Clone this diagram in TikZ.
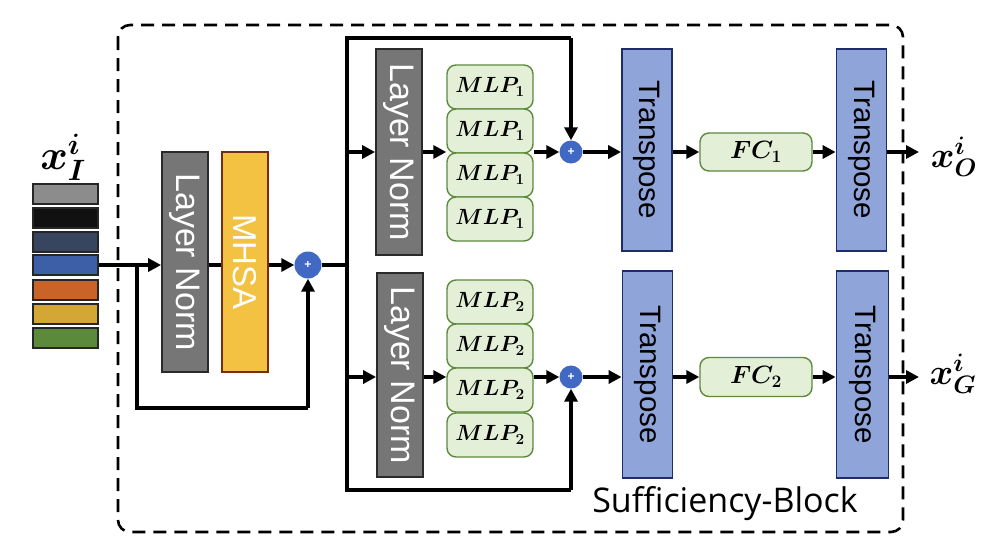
\RequirePackage{fix-cm}
\documentclass[tikz,border=0pt]{standalone}
\usepackage{fontspec}
\usepackage{bm}
\newfontfamily\sansf{Liberation Sans}
\newfontfamily\blockf{Open Sans}
\usetikzlibrary{arrows.meta}
\definecolor{lngray}{HTML}{767676}
\definecolor{lnborder}{HTML}{2A2A2A}
\definecolor{mhsafill}{HTML}{F4C242}
\definecolor{mhsaborder}{HTML}{7A2A10}
\definecolor{mlpfill}{HTML}{E3EFD6}
\definecolor{mlpborder}{HTML}{5E8A3C}
\definecolor{tfill}{HTML}{8FA4D9}
\definecolor{tborder}{HTML}{1E2C6B}
\definecolor{plusblue}{HTML}{4169C4}
\definecolor{c1}{HTML}{8C8C8C}
\definecolor{c2}{HTML}{111111}
\definecolor{c3}{HTML}{37465E}
\definecolor{c4}{HTML}{3C5FA8}
\definecolor{c5}{HTML}{C8632A}
\definecolor{c6}{HTML}{D4A635}
\definecolor{c7}{HTML}{5B8A3A}
\begin{document}
\begin{tikzpicture}[x=1pt,y=-1pt,
  box/.style={draw, rectangle, line width=1.8pt, inner sep=0pt},
  lnbox/.style={box, fill=lngray, draw=lnborder, text=white, minimum width=46pt, font=\sansf\fontsize{34}{34}\selectfont},
  mhsabox/.style={box, fill=mhsafill, draw=mhsaborder, text=white, minimum width=46pt, minimum height=220pt, font=\sansf\fontsize{33}{33}\selectfont},
  tbox/.style={box, fill=tfill, draw=tborder, text=black, minimum width=50pt, font=\sansf\fontsize{29.5}{29.5}\selectfont},
  mlpbox/.style={draw=mlpborder, fill=mlpfill, line width=1.4pt, rounded corners=9pt, minimum width=86pt, minimum height=44pt, inner sep=0pt, font=\fontsize{22}{22}\selectfont},
  fcbox/.style={draw=mlpborder, fill=mlpfill, line width=1.4pt, rounded corners=9pt, minimum width=112pt, minimum height=38pt, inner sep=0pt, font=\fontsize{25}{25}\selectfont},
  inbox/.style={draw=black!85, line width=1.6pt, minimum width=65pt, minimum height=20pt, inner sep=0pt},
  plus/.style={circle, fill=plusblue, inner sep=0pt, text=white, font=\sansf\bfseries\fontsize{12}{12}\selectfont},
  arr/.style={line width=3.4pt, -{Triangle[length=13pt,width=13pt]}},
  ln/.style={line width=3.4pt},
  lbl/.style={inner sep=0pt},
]
\useasboundingbox (0,0) rectangle (991,555);
\fill[white] (0,0) rectangle (991,555);

% dashed frame
\draw[line width=2.6pt, dash pattern=on 13pt off 8pt, rounded corners=12pt] (118,25) rectangle (903,532);

% input stack
\node[lbl, font=\fontsize{42}{42}\selectfont] (xi) at (63,157) {$\bm{x_I^i}$};
\node[inbox, fill=c1] (in1) at (65.5,194) {};
\node[inbox, fill=c2] (in2) at (65.5,218) {};
\node[inbox, fill=c3] (in3) at (65.5,242) {};
\node[inbox, fill=c4] (in4) at (65.5,265) {};
\node[inbox, fill=c5] (in5) at (65.5,290) {};
\node[inbox, fill=c6] (in6) at (65.5,314) {};
\node[inbox, fill=c7] (in7) at (65.5,338) {};

% first stage
\node[lnbox, minimum height=220pt] (ln1) at (185,262) {\rotatebox{-90}{Layer Norm}};
\node[mhsabox] (mhsa) at (245,262) {\rotatebox{-90}{MHSA}};
\node[plus, minimum size=27pt] (p1) at (308,265) {+};

% branch coordinates
\coordinate (bm) at (347,265);
\coordinate (bt) at (347,38);
\coordinate (bb) at (347,490);
\coordinate (tr) at (571,38);
\coordinate (br) at (571,490);
\coordinate (sk1) at (137,265);
\coordinate (sk2) at (137,408);
\coordinate (sk3) at (308,408);

% upper branch
\node[lnbox, minimum height=206pt] (ln2) at (399,152) {\rotatebox{-90}{Layer Norm}};
\node[mlpbox] (m11) at (490,87) {$\bm{MLP_1}$};
\node[mlpbox] (m12) at (490,131) {$\bm{MLP_1}$};
\node[mlpbox] (m13) at (490,175) {$\bm{MLP_1}$};
\node[mlpbox] (m14) at (490,219) {$\bm{MLP_1}$};
\node[plus, minimum size=23pt] (p2) at (571,152) {+};
\node[tbox, minimum height=202pt] (t1) at (647,150) {\rotatebox{-90}{Transpose}};
\node[fcbox] (fc1) at (756,152) {$\bm{FC_1}$};
\node[tbox, minimum height=202pt] (t2) at (861.5,150) {\rotatebox{-90}{Transpose}};
\coordinate (o1) at (919,152);
\node[lbl, font=\fontsize{36}{36}\selectfont] (xo) at (954,157) {$\bm{x_O^i}$};

% lower branch
\node[lnbox, minimum height=204pt] (ln3) at (400,375) {\rotatebox{-90}{Layer Norm}};
\node[mlpbox] (m21) at (490,302) {$\bm{MLP_2}$};
\node[mlpbox] (m22) at (490,346) {$\bm{MLP_2}$};
\node[mlpbox] (m23) at (490,390) {$\bm{MLP_2}$};
\node[mlpbox] (m24) at (490,435) {$\bm{MLP_2}$};
\node[plus, minimum size=23pt] (p3) at (571,377) {+};
\node[tbox, minimum height=207pt] (t3) at (647.5,374.5) {\rotatebox{-90}{Transpose}};
\node[fcbox, minimum height=39pt] (fc2) at (756,377) {$\bm{FC_2}$};
\node[tbox, minimum width=52pt, minimum height=207pt] (t4) at (862.5,374.5) {\rotatebox{-90}{Transpose}};
\coordinate (o2) at (919,377);
\node[lbl, font=\fontsize{36}{36}\selectfont] (xg) at (953,374) {$\bm{x_G^i}$};

\node[lbl, font=\blockf\fontsize{34}{34}\selectfont] (sb) at (725,504) {Sufficiency-Block};

% connectors first stage
\draw[arr] (in4.east) -- (ln1.west |- in4.east);
\draw[ln] (ln1.east |- p1) -- (mhsa.west |- p1);
\draw[arr] (mhsa.east |- p1) -- (p1.west);
\draw[ln] (sk1) -- (sk2) -- (sk3);
\draw[arr] (sk3) -- (p1.south);
\draw[ln] (p1.east) -- (bm);
\draw[ln, line cap=rect] (bt) -- (bb);

% upper
\draw[arr] (bm |- p2) -- (ln2.west |- p2);
\draw[arr] (ln2.east |- p2) -- (m13.west |- p2);
\draw[arr] (m13.east |- p2) -- (p2.west);
\draw[ln] (bt) -- (tr);
\draw[arr] (tr) -- (p2.north);
\draw[arr] (p2.east) -- (t1.west |- p2);
\draw[arr] (t1.east |- fc1) -- (fc1.west);
\draw[arr] (fc1.east) -- (t2.west |- fc1);
\draw[arr] (t2.east |- o1) -- (o1);

% lower
\draw[arr] (bm |- p3) -- (ln3.west |- p3);
\draw[arr] (ln3.east |- p3) -- (m23.west |- p3);
\draw[arr] (m23.east |- p3) -- (p3.west);
\draw[ln] (bb) -- (br);
\draw[arr] (br) -- (p3.south);
\draw[arr] (p3.east) -- (t3.west |- p3);
\draw[arr] (t3.east |- fc2) -- (fc2.west);
\draw[arr] (fc2.east) -- (t4.west |- fc2);
\draw[arr] (t4.east |- o2) -- (o2);
\end{tikzpicture}
\end{document}
